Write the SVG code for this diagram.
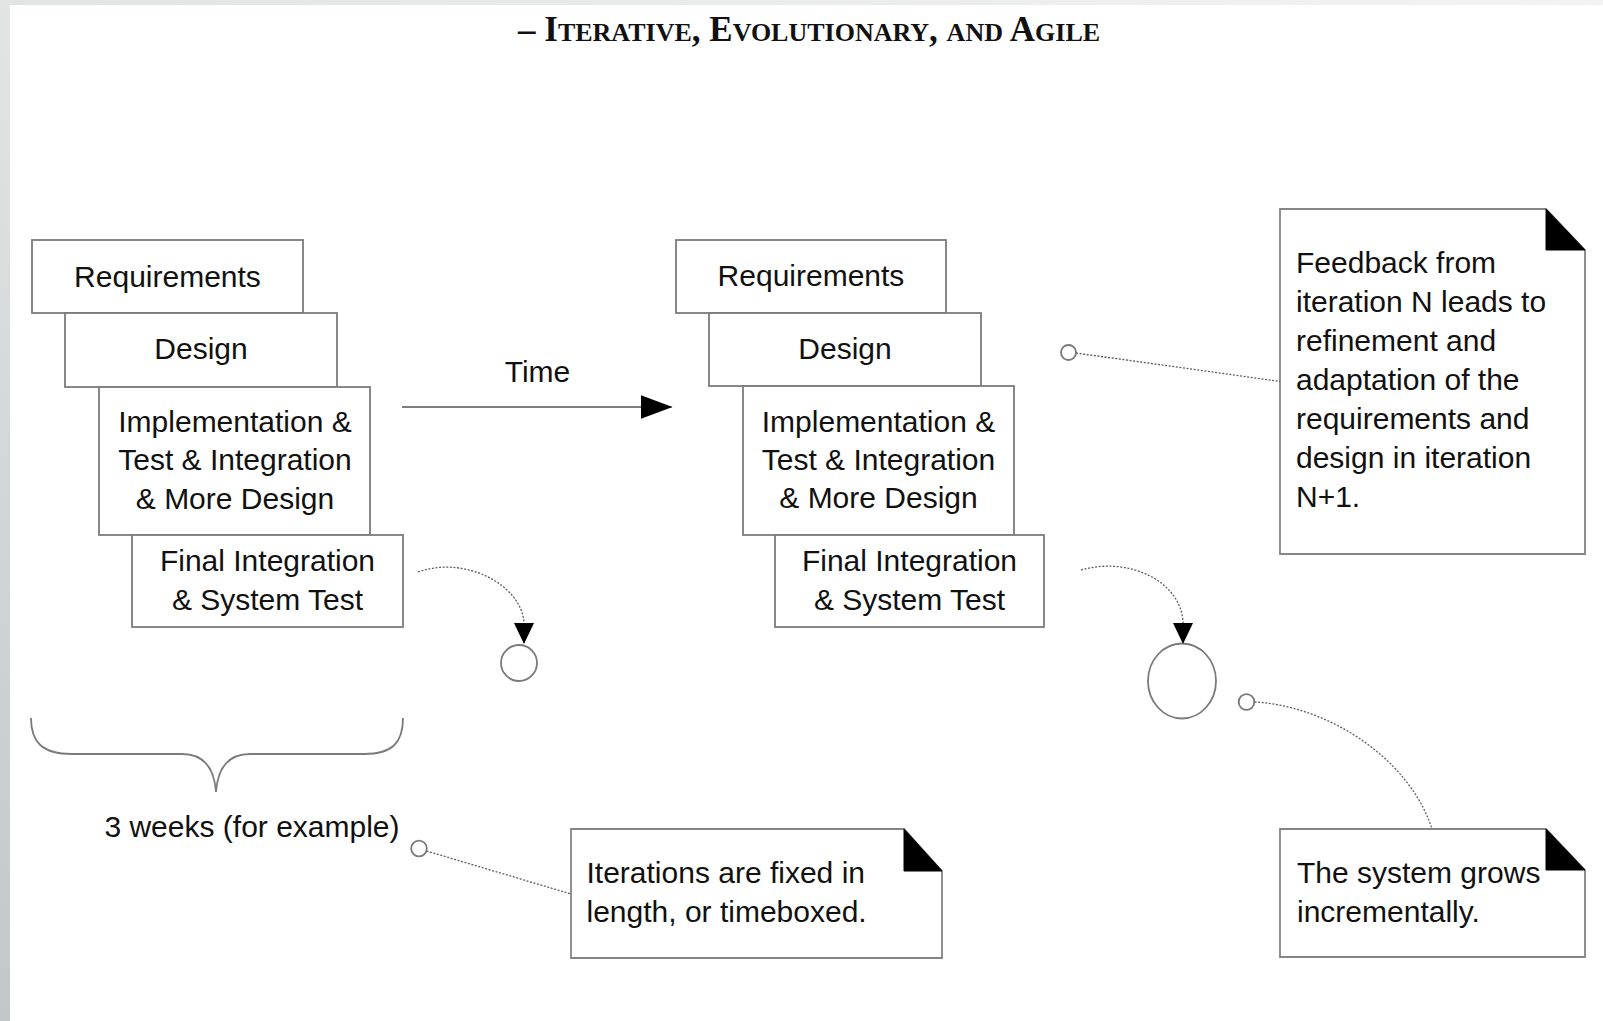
<svg xmlns="http://www.w3.org/2000/svg" width="1603" height="1021" viewBox="0 0 1603 1021">
  <defs>
    <linearGradient id="leftStrip" x1="0" y1="0" x2="0" y2="1">
      <stop offset="0" stop-color="#e3e5e5"/>
      <stop offset="1" stop-color="#c3c7c7"/>
    </linearGradient>
    <linearGradient id="topStrip" x1="0" y1="0" x2="1" y2="0">
      <stop offset="0" stop-color="#e2e4e4"/>
      <stop offset="1" stop-color="#f3f3f3"/>
    </linearGradient>
    <marker id="timeHead" markerUnits="userSpaceOnUse" markerWidth="32" markerHeight="24" viewBox="0 0 32 24" refX="31" refY="12" orient="auto">
      <path d="M0,0 L32,12 L0,24 Z" fill="#000"/>
    </marker>
    <marker id="dotHead" markerUnits="userSpaceOnUse" markerWidth="21" markerHeight="20" viewBox="0 0 21 20" refX="20" refY="10" orient="auto">
      <path d="M0,0 L21,10 L0,20 Z" fill="#000"/>
    </marker>
    <style>
      .box { fill: #fff; stroke: #7c7c7c; stroke-width: 1.8; }
      .note { fill: #fff; stroke: #858585; stroke-width: 1.8; }
      .fold { fill: #000; stroke: #000; stroke-width: 1; }
      .t { font-family: "Liberation Sans", Arial, sans-serif; font-size: 30px; fill: #111; }
      .c { text-anchor: middle; }
      .dot { fill: none; stroke: #5e5e5e; stroke-width: 1.3; stroke-dasharray: 2 1.6; }
      .ring { fill: #fff; stroke: #7a7a7a; stroke-width: 1.8; }
      .title { font-family: "Liberation Serif", "Times New Roman", serif; font-weight: bold; fill: #111; }
    </style>
  </defs>

  <!-- page background -->
  <rect x="0" y="0" width="1603" height="1021" fill="#fff"/>
  <rect x="0" y="0" width="1603" height="5" fill="url(#topStrip)"/>
  <rect x="0" y="0" width="10" height="1021" fill="url(#leftStrip)"/>

  <g id="title">
    <text class="title" x="518" y="41" font-size="35">– I<tspan font-size="26">TERATIVE</tspan>, E<tspan font-size="26">VOLUTIONARY</tspan>, <tspan font-size="26">AND</tspan> A<tspan font-size="26">GILE</tspan></text>
  </g>

  <!-- iteration 1 -->
  <g id="iter1-requirements">
    <rect class="box" x="32" y="240" width="271" height="73"/>
    <text class="t c" x="167.5" y="287">Requirements</text>
  </g>
  <g id="iter1-design">
    <rect class="box" x="65" y="313" width="272" height="74"/>
    <text class="t c" x="201" y="359">Design</text>
  </g>
  <g id="iter1-implementation">
    <rect class="box" x="99" y="387" width="271" height="148"/>
    <text class="t c" x="235" y="432">Implementation &amp;</text>
    <text class="t c" x="235" y="470">Test &amp; Integration</text>
    <text class="t c" x="235" y="509">&amp; More Design</text>
  </g>
  <g id="iter1-final">
    <rect class="box" x="132" y="535" width="271" height="92"/>
    <text class="t c" x="267.5" y="571">Final Integration</text>
    <text class="t c" x="267.5" y="610">&amp; System Test</text>
  </g>

  <!-- iteration 2 -->
  <g id="iter2-requirements">
    <rect class="box" x="676" y="240" width="270" height="73"/>
    <text class="t c" x="811" y="286">Requirements</text>
  </g>
  <g id="iter2-design">
    <rect class="box" x="709" y="313" width="272" height="73"/>
    <text class="t c" x="845" y="359">Design</text>
  </g>
  <g id="iter2-implementation">
    <rect class="box" x="743" y="386" width="271" height="149"/>
    <text class="t c" x="878.5" y="432">Implementation &amp;</text>
    <text class="t c" x="878.5" y="470">Test &amp; Integration</text>
    <text class="t c" x="878.5" y="508">&amp; More Design</text>
  </g>
  <g id="iter2-final">
    <rect class="box" x="775" y="535" width="269" height="92"/>
    <text class="t c" x="909.5" y="571">Final Integration</text>
    <text class="t c" x="909.5" y="610">&amp; System Test</text>
  </g>

  <g id="time-label">
    <text class="t c" x="537.5" y="382">Time</text>
  </g>

  <g id="system-small">
    <circle class="ring" cx="519" cy="663" r="18"/>
  </g>
  <g id="system-large">
    <ellipse class="ring" cx="1182" cy="681" rx="34" ry="37.5"/>
  </g>

  <g id="brace-3weeks">
    <path d="M31,718 C31,742 42,754 72,754 L182,754 C202,754 214,765 216,792 M216,792 C218,765 230,754 250,754 L364,754 C393,754 403,742 403,718" fill="none" stroke="#7a7a7a" stroke-width="1.8"/>
    <text class="t c" x="252" y="837">3 weeks (for example)</text>
  </g>

  <g id="note-feedback">
    <path class="note" d="M1280,209 L1546,209 L1585,250 L1585,554 L1280,554 Z"/>
    <path class="fold" d="M1546,209 L1546,250 L1585,250 Z"/>
    <text class="t" x="1296" y="273">Feedback from</text>
    <text class="t" x="1296" y="312">iteration N leads to</text>
    <text class="t" x="1296" y="351">refinement and</text>
    <text class="t" x="1296" y="390">adaptation of the</text>
    <text class="t" x="1296" y="429">requirements and</text>
    <text class="t" x="1296" y="468">design in iteration</text>
    <text class="t" x="1296" y="507">N+1.</text>
  </g>

  <g id="note-grows">
    <path class="note" d="M1280,829 L1546,829 L1585,870 L1585,957 L1280,957 Z"/>
    <path class="fold" d="M1546,829 L1546,870 L1585,870 Z"/>
    <text class="t" x="1297" y="883">The system grows</text>
    <text class="t" x="1297" y="922">incrementally.</text>
  </g>

  <g id="note-timeboxed">
    <path class="note" d="M571,829 L904,829 L942,871 L942,958 L571,958 Z"/>
    <path class="fold" d="M904,829 L904,871 L942,871 Z"/>
    <text class="t" x="586.5" y="883">Iterations are fixed in</text>
    <text class="t" x="586.5" y="922">length, or timeboxed.</text>
  </g>

  <g id="connectors">
    <line x1="402" y1="407" x2="671.5" y2="407" stroke="#555" stroke-width="1.6" marker-end="url(#timeHead)"/>
    <path class="dot" d="M418,572 C465,555 522,585 524,623 L524,643" marker-end="url(#dotHead)"/>
    <path class="dot" d="M1081,570 C1130,556 1181,582 1183,622 L1183,643" marker-end="url(#dotHead)"/>
    <circle class="ring" cx="1068.5" cy="352.5" r="7.5" stroke-width="1.5"/>
    <path class="dot" d="M1076,353 L1280,381.5"/>
    <circle class="ring" cx="1246.5" cy="702" r="7.8" stroke-width="1.5"/>
    <path class="dot" d="M1254.5,702 C1330,706 1410,760 1432,829"/>
    <circle class="ring" cx="419" cy="848.5" r="7.8" stroke-width="1.5"/>
    <path class="dot" d="M426.5,851 L571,894"/>
  </g>
</svg>
